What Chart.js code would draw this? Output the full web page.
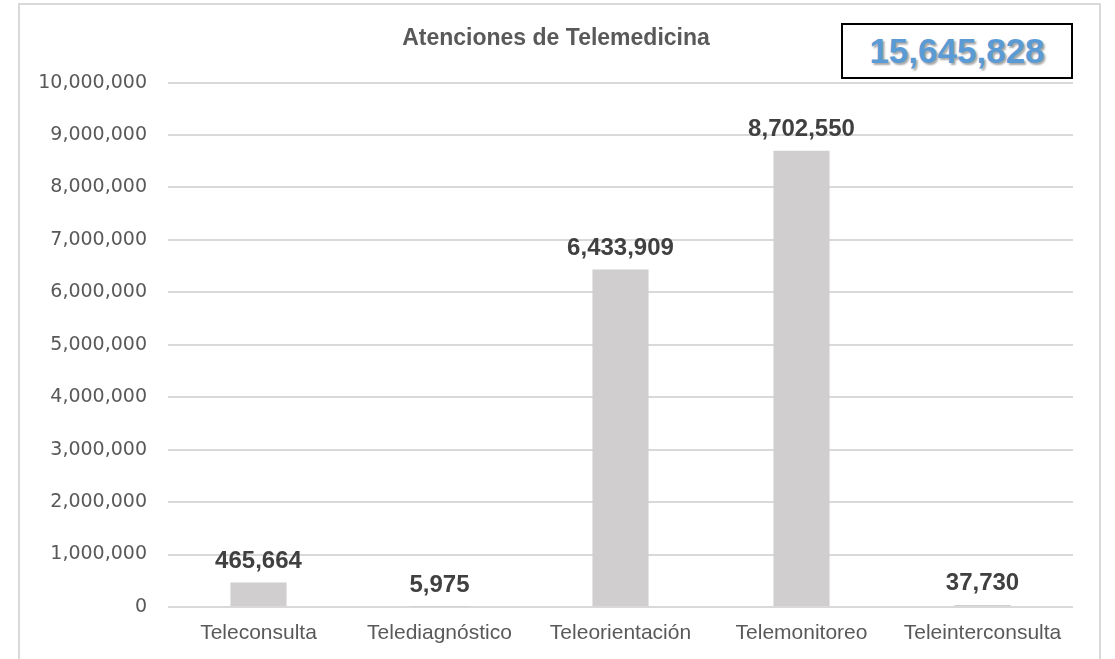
<!DOCTYPE html>
<html>
<head>
<meta charset="utf-8">
<script src="https://cdn.jsdelivr.net/npm/chart.js@4/dist/chart.umd.min.js"></script>
<style>
  html, body { margin: 0; padding: 0; background: #fff; overflow: hidden; }
  #wrap { position: relative; width: 1115px; height: 659px; }
  #frame { position: absolute; left: 18px; top: 3px; width: 1083px; height: 720px; border: 2px solid #d9d9d9; box-sizing: border-box; pointer-events: none; }
  #total { position: absolute; left: 841px; top: 23px; width: 232px; height: 56px; border: 2px solid #000; box-sizing: border-box;
           font: bold 35px "Liberation Sans", Arial, sans-serif; color: #5b9bd5; text-align: center; line-height: 52px;
           text-shadow: 2px 2px 2px rgba(0,0,0,0.35); background: #fff; }
  canvas { position: absolute; left: 0; top: 0; }
</style>
</head>
<body>
<div id="wrap">
  <canvas id="c" width="1115" height="659"></canvas>
  <div id="frame"></div>
  <div id="total"></div>
</div>
<script>
const titleText = "Atenciones de Telemedicina";
const categories = ["Teleconsulta", "Telediagnóstico", "Teleorientación", "Telemonitoreo", "Teleinterconsulta"];
const values = [465664, 5975, 6433909, 8702550, 37730];
const totalValue = 15645828;
const yMax = 10000000;
const yStep = 1000000;

const fmt = v => v.toLocaleString('en-US');
document.getElementById('total').textContent = fmt(totalValue);

const valueLabels = {
  id: 'valueLabels',
  afterDatasetsDraw(chart) {
    const ctx = chart.ctx;
    const meta = chart.getDatasetMeta(0);
    ctx.save();
    ctx.font = 'bold 24px "Liberation Sans", Arial, sans-serif';
    ctx.fillStyle = '#404040';
    ctx.textAlign = 'center';
    ctx.textBaseline = 'alphabetic';
    meta.data.forEach((bar, i) => {
      ctx.fillText(fmt(chart.data.datasets[0].data[i]), bar.x, bar.y - 15);
    });
    ctx.restore();
  }
};

new Chart(document.getElementById('c'), {
  type: 'bar',
  data: {
    labels: categories,
    datasets: [{
      data: values,
      backgroundColor: '#d0cece',
      borderWidth: 0,
      categoryPercentage: 1,
      barPercentage: 0.31
    }]
  },
  options: {
    responsive: false,
    animation: false,
    layout: { padding: { left: 39, right: 42, top: 0, bottom: 13 } },
    plugins: {
      legend: { display: false },
      tooltip: { enabled: false },
      title: {
        display: true,
        text: titleText,
        color: '#595959',
        font: { family: '"Liberation Sans", Arial, sans-serif', size: 23, weight: 'bold' },
        padding: { top: 25, bottom: 30 }
      }
    },
    scales: {
      x: {
        grid: { display: false, drawTicks: false },
        border: { display: false },
        ticks: {
          color: '#595959',
          padding: 14,
          maxRotation: 0,
          font: { family: '"Liberation Sans", Arial, sans-serif', size: 21 }
        },
        afterFit(scale) { scale.height = 39; }
      },
      y: {
        min: 0,
        max: yMax,
        grid: { color: '#d9d9d9', lineWidth: 2, drawTicks: false },
        border: { display: false },
        ticks: {
          stepSize: yStep,
          color: '#595959',
          padding: 21,
          font: { family: '"DejaVu Sans", sans-serif', size: 19 },
          callback: v => fmt(v)
        },
        afterFit(scale) { scale.width = 129; }
      }
    }
  },
  plugins: [valueLabels]
});
</script>
</body>
</html>
